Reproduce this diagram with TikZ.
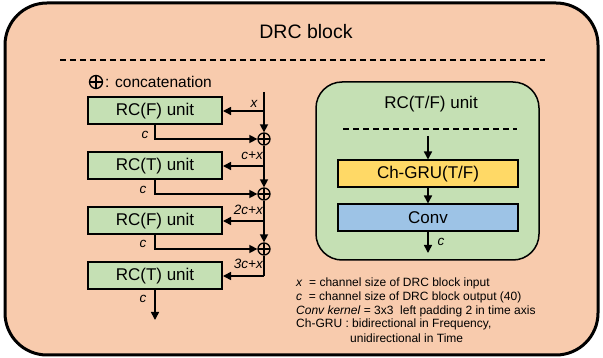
\documentclass[tikz,border=0pt]{standalone}
\usepackage{fontspec}
\setmainfont{Liberation Sans}
\usetikzlibrary{arrows.meta}
\definecolor{peach}{HTML}{F8CBAD}
\definecolor{lgreen}{HTML}{C5E0B4}
\definecolor{lyellow}{HTML}{FFD966}
\definecolor{lblue}{HTML}{9DC3E6}
\begin{document}
\begin{tikzpicture}[x=1pt,y=-1pt,
  unitbox/.style={draw=black,line width=2pt,fill=lgreen,minimum width=134pt,minimum height=27pt,inner sep=0,font=\fontsize{17}{19}\selectfont},
  wbox/.style={draw=black,line width=2pt,minimum width=180pt,minimum height=27pt,inner sep=0,font=\fontsize{17}{19}\selectfont},
  arr/.style={line width=1.5pt,-{Triangle[length=8pt,width=8pt]}},
  ln/.style={line width=1.5pt},
  oplus/.style={circle,draw=black,line width=1.3pt,minimum size=12pt,inner sep=0,
    path picture={\draw[line width=1.3pt] (path picture bounding box.north) -- (path picture bounding box.south) (path picture bounding box.west) -- (path picture bounding box.east);}},
  lab/.style={font=\fontsize{13.5}{15}\selectfont\itshape,inner sep=0},
  note/.style={font=\fontsize{12}{14}\selectfont,inner sep=0,anchor=west}]
\useasboundingbox (0,0) rectangle (603,358);
% outer block
\draw[line width=3pt,fill=peach,rounded corners=42pt] (5,3) rectangle (598,355);
\node[font=\fontsize{19.5}{22}\selectfont] (title) at (306,32) {DRC block};
\draw[line width=1.5pt,dash pattern=on 6pt off 4pt] (60,60) -- (545,60);
% legend
\node[oplus,minimum size=13pt] (leg) at (96,82) {};
\node[anchor=west,inner sep=0,font=\fontsize{15.5}{18}\selectfont] (legt) at (105,82) {: concatenation};
% left chain
\node[unitbox] (b1) at (155,111) {RC(F) unit};
\node[unitbox] (b2) at (155,166) {RC(T) unit};
\node[unitbox] (b3) at (155,221) {RC(F) unit};
\node[unitbox] (b4) at (155,276) {RC(T) unit};
\node[oplus] (o1) at (264,139) {};
\node[oplus] (o2) at (264,194) {};
\node[oplus] (o3) at (264,249) {};
\coordinate (top) at (264,92);
\coordinate (j1) at (264,111);
\coordinate (j2) at (264,166);
\coordinate (j3) at (264,221);
\coordinate (j4) at (264,276);
\coordinate (out) at (155,320);
\draw[ln] (top) -- (j1);
\draw[arr] (j1) -- (b1.east);
\draw[arr] (j1) -- (o1.north);
\draw[arr] (b1.south) |- (o1.west);
\draw[ln] (o1.south) -- (j2);
\draw[arr] (j2) -- (b2.east);
\draw[arr] (j2) -- (o2.north);
\draw[arr] (b2.south) |- (o2.west);
\draw[ln] (o2.south) -- (j3);
\draw[arr] (j3) -- (b3.east);
\draw[arr] (j3) -- (o3.north);
\draw[arr] (b3.south) |- (o3.west);
\draw[ln] (o3.south) -- (j4);
\draw[arr] (j4) -- (b4.east);
\draw[arr] (b4.south) -- (out);
\node[lab] (lx) at (254,104) {x};
\node[lab] (lc1) at (145,135) {c};
\node[lab,anchor=east] (lcx) at (263,156) {c+x};
\node[lab] (lc2) at (143,190) {c};
\node[lab,anchor=east] (l2c) at (263,210) {2c+x};
\node[lab] (lc3) at (143,244) {c};
\node[lab,anchor=east] (l3c) at (263,264) {3c+x};
\node[lab] (lc4) at (143,299) {c};
% right unit
\draw[line width=1.5pt,fill=lgreen,rounded corners=26pt] (316,82) rectangle (539,260);
\node[font=\fontsize{17}{19}\selectfont] (rt) at (431,104) {RC(T/F) unit};
\draw[line width=1.5pt,dash pattern=on 6pt off 4pt] (343,129) -- (517,129);
\node[wbox,fill=lyellow] (gru) at (428,174) {Ch-GRU(T/F)};
\node[wbox,fill=lblue] (conv) at (428,218) {Conv};
\coordinate (rin) at (428,136);
\coordinate (rout) at (428,253);
\draw[arr] (rin) -- (gru.north);
\draw[arr] (gru.south) -- (conv.north);
\draw[arr] (conv.south) -- (rout);
\node[lab] (rc) at (441,242) {c};
% notes
\node[note] (n1) at (296,283) {\textit{x}\ \ = channel size of DRC block input};
\node[note] (n2) at (296,297) {\textit{c}\ \ = channel size of DRC block output (40)};
\node[note] (n3) at (296,311) {\textit{Conv kernel} = 3x3\ \ left padding 2 in time axis};
\node[note] (n4) at (296,324.5) {Ch-GRU : bidirectional in Frequency,};
\node[note] (n5) at (350,338) {unidirectional in Time};
\end{tikzpicture}
\end{document}
